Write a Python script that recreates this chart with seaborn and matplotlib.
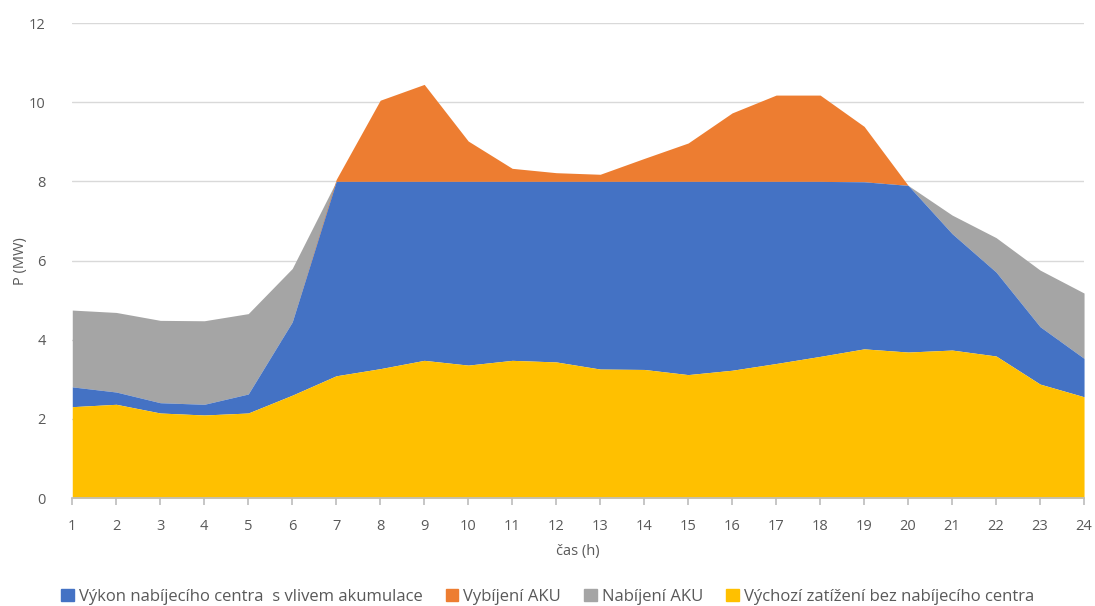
import numpy as np
import matplotlib
matplotlib.use("Agg")
import matplotlib.pyplot as plt
import seaborn as sns
from matplotlib.patches import Patch

# ==== data (MW) ====
hodiny = list(range(1, 25))
vychozi = [2.31, 2.37, 2.15, 2.10, 2.15, 2.60, 3.09, 3.27, 3.48, 3.36, 3.48, 3.44,
           3.26, 3.25, 3.12, 3.23, 3.40, 3.58, 3.77, 3.69, 3.74, 3.59, 2.88, 2.56]
vykon_akumulace = [2.81, 2.68, 2.41, 2.37, 2.63, 4.45, 8.0, 8.0, 8.0, 8.0, 8.0, 8.0,
                   8.0, 8.0, 8.0, 8.0, 8.0, 8.0, 7.99, 7.90, 6.68, 5.71, 4.33, 3.53]
nabijeni_top = [4.75, 4.69, 4.49, 4.48, 4.66, 5.80, 8.0, 8.0, 8.0, 8.0, 8.0, 8.0,
                8.0, 8.0, 8.0, 8.0, 8.0, 8.0, 7.99, 7.90, 7.15, 6.58, 5.76, 5.18]
vybijeni_top = [2.81, 2.68, 2.41, 2.37, 2.63, 4.45, 8.05, 10.05, 10.45, 9.02, 8.33, 8.22,
                8.18, 8.58, 8.97, 9.73, 10.18, 10.18, 9.39, 7.90, 6.68, 5.71, 4.33, 3.53]

labels = ["Výkon nabíjecího centra  s vlivem akumulace", "Vybíjení AKU",
          "Nabíjení AKU", "Výchozí zatížení bez nabíjecího centra"]
barvy = ["#4472C4", "#ED7D31", "#A5A5A5", "#FFC000"]

sns.set_theme(style="whitegrid")
plt.rcParams['font.family'] = ['Open Sans', 'DejaVu Sans']

fig, ax = plt.subplots(figsize=(10.95, 6.06), dpi=100)
fig.subplots_adjust(left=0.066, right=0.99, top=0.962, bottom=0.178)

x = np.array(hodiny)
# poradi vrstev: sedy a oranzovy nad modrou, zluty zaklad
ax.fill_between(x, vykon_akumulace, nabijeni_top, color=barvy[2], lw=0)
ax.fill_between(x, vykon_akumulace, vybijeni_top, color=barvy[1], lw=0)
ax.fill_between(x, vychozi, vykon_akumulace, color=barvy[0], lw=0)
ax.fill_between(x, 0, vychozi, color=barvy[3], lw=0)

ax.set_xlim(1, 24)
ax.set_ylim(0, 12)
ax.set_xticks(hodiny)
ax.set_yticks([0, 2, 4, 6, 8, 10, 12])
ax.grid(axis='x', visible=False)
ax.grid(axis='y', color='#D9D9D9', lw=1)
ax.set_axisbelow(True)
for s in ['top', 'right', 'left']:
    ax.spines[s].set_visible(False)
ax.spines['bottom'].set_color('#BFBFBF')
ax.tick_params(axis='x', bottom=True, length=5, color='#BFBFBF', labelsize=10.5,
               labelcolor='#595959', pad=10)
ax.tick_params(axis='y', left=False, labelsize=10.5, labelcolor='#595959', pad=13)

ax.set_xlabel("čas (h)", fontsize=10.5, color='#595959', labelpad=7)
ax.set_ylabel("P (MW)", fontsize=10.5, color='#595959')
ax.yaxis.set_label_coords(-0.044, 0.5)

handles = [Patch(color=c) for c in barvy]
fig.legend(handles, labels, loc='center', ncol=4, bbox_to_anchor=(0.5, 0.015),
           frameon=False, fontsize=12, handlelength=0.75, handleheight=0.75,
           handletextpad=0.3, columnspacing=1.4, labelcolor='#595959',
           borderpad=0, borderaxespad=0)

fig.savefig("out.png", dpi=100)
